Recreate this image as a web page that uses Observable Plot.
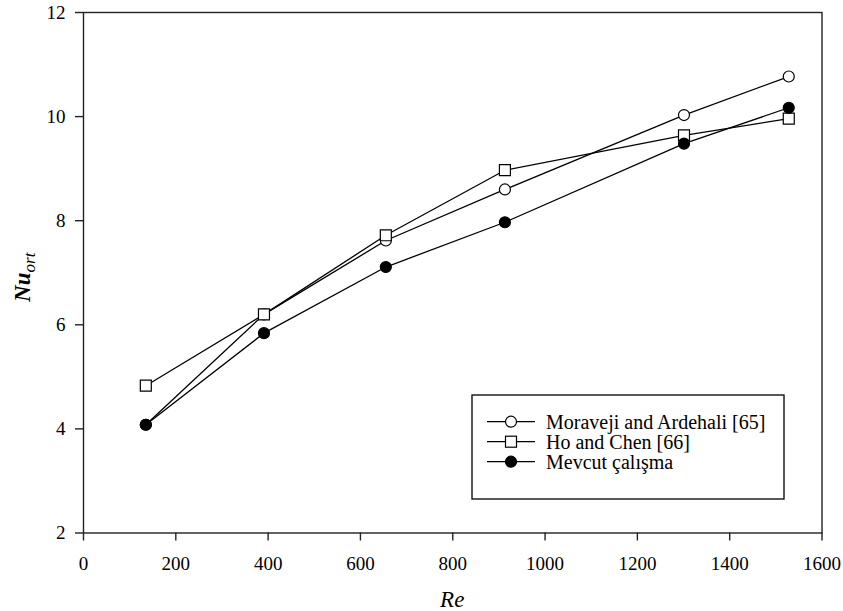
<!DOCTYPE html>
<html>
<head>
<meta charset="utf-8">
<script src="https://cdn.jsdelivr.net/npm/d3@7"></script>
<script src="https://cdn.jsdelivr.net/npm/@observablehq/plot@0.6"></script>
<style>
  html, body { margin: 0; padding: 0; background: #fff; }
  svg { display: block; }
</style>
</head>
<body>
<div id="chart"></div>
<script>
// ---- data ----
const re = [135, 391, 655, 913, 1301, 1528];
const moraveji = [4.08, 6.20, 7.62, 8.60, 10.03, 10.77];
const hoChen = [4.83, 6.20, 7.72, 8.97, 9.64, 9.96];
const mevcut = [4.08, 5.84, 7.11, 7.97, 9.48, 10.17];
const seriesNames = ["Moraveji and Ardehali [65]", "Ho and Chen [66]", "Mevcut çalışma"];
const xTicks = [0, 200, 400, 600, 800, 1000, 1200, 1400, 1600];
const yTicks = [2, 4, 6, 8, 10, 12];
const xLabel = "Re";
const yLabelMain = "Nu";
const yLabelSub = "ort";

const rows = (vals, name) => re.map((r, i) => ({re: r, nu: vals[i], series: name}));
const dM = rows(moraveji, seriesNames[0]);
const dH = rows(hoChen, seriesNames[1]);
const dC = rows(mevcut, seriesNames[2]);

const styles = [
  {symbol: "circle", r: 5.5, fill: "white"},
  {symbol: "square", r: 6.2, fill: "white"},
  {symbol: "circle", r: 5.5, fill: "black"}
];

const FONT = "'Liberation Serif', 'Times New Roman', serif";

const chart = Plot.plot({
  width: 843,
  height: 611,
  marginLeft: 83,
  marginRight: 21.5,
  marginTop: 12,
  marginBottom: 78.5,
  style: {fontFamily: FONT, fontSize: "19px", color: "#000", background: "white"},
  x: {domain: [0, 1600]},
  y: {domain: [2, 12]},
  marks: [
    Plot.axisX({ticks: xTicks, tickSize: 8, tickPadding: 15, label: null, fontSize: 19, stroke: "#222", strokeWidth: 1.4, tickFormat: d => String(d)}),
    Plot.axisY({ticks: yTicks, tickSize: 8, tickPadding: 10, label: null, fontSize: 19, stroke: "#222", strokeWidth: 1.4, tickFormat: d => String(d)}),
    Plot.frame({stroke: "#222", strokeWidth: 1.4}),
    ...[dM, dH, dC].flatMap((d, i) => [
      Plot.line(d, {x: "re", y: "nu", stroke: "black", strokeWidth: 1.3}),
      Plot.dot(d, {x: "re", y: "nu", symbol: styles[i].symbol, r: styles[i].r, fill: styles[i].fill, stroke: "black", strokeWidth: 1.2})
    ])
  ]
});

const svg = d3.select(chart);
const xs = chart.scale("x"), ys = chart.scale("y");
const xMid = (xs.range[0] + xs.range[1]) / 2;
const yMid = (ys.range[0] + ys.range[1]) / 2;

// x label
svg.append("text")
  .attr("x", xMid).attr("y", 607)
  .attr("text-anchor", "middle")
  .attr("font-family", FONT).attr("font-size", 23).attr("font-style", "italic")
  .text(xLabel);

// y label with subscript
const yl = svg.append("text")
  .attr("transform", `translate(30,${yMid + 5}) rotate(-90)`)
  .attr("text-anchor", "middle")
  .attr("font-family", FONT).attr("font-size", 23).attr("font-style", "italic");
yl.append("tspan").attr("font-weight", "bold").text(yLabelMain);
yl.append("tspan").attr("font-size", 17).attr("dy", 5).text(yLabelSub);

// legend
const lg = svg.append("g");
lg.append("rect").attr("x", 472).attr("y", 395).attr("width", 312).attr("height", 104)
  .attr("fill", "white").attr("stroke", "black").attr("stroke-width", 1.3);
seriesNames.forEach((name, i) => {
  const cy = 421.7 + i * 20;
  lg.append("line").attr("x1", 487).attr("x2", 535).attr("y1", cy).attr("y2", cy)
    .attr("stroke", "black").attr("stroke-width", 1.3);
  const st = styles[i];
  if (st.symbol === "square") {
    const s = Math.sqrt(Math.PI) * st.r;
    lg.append("rect").attr("x", 511 - s / 2).attr("y", cy - s / 2).attr("width", s).attr("height", s)
      .attr("fill", st.fill).attr("stroke", "black").attr("stroke-width", 1.2);
  } else {
    lg.append("circle").attr("cx", 511).attr("cy", cy).attr("r", st.r)
      .attr("fill", st.fill).attr("stroke", "black").attr("stroke-width", 1.2);
  }
  lg.append("text").attr("x", 546).attr("y", cy).attr("dy", "0.35em")
    .attr("text-anchor", "start")
    .attr("font-family", FONT).attr("font-size", 20).text(name);
});

document.getElementById("chart").appendChild(chart);
</script>
</body>
</html>
